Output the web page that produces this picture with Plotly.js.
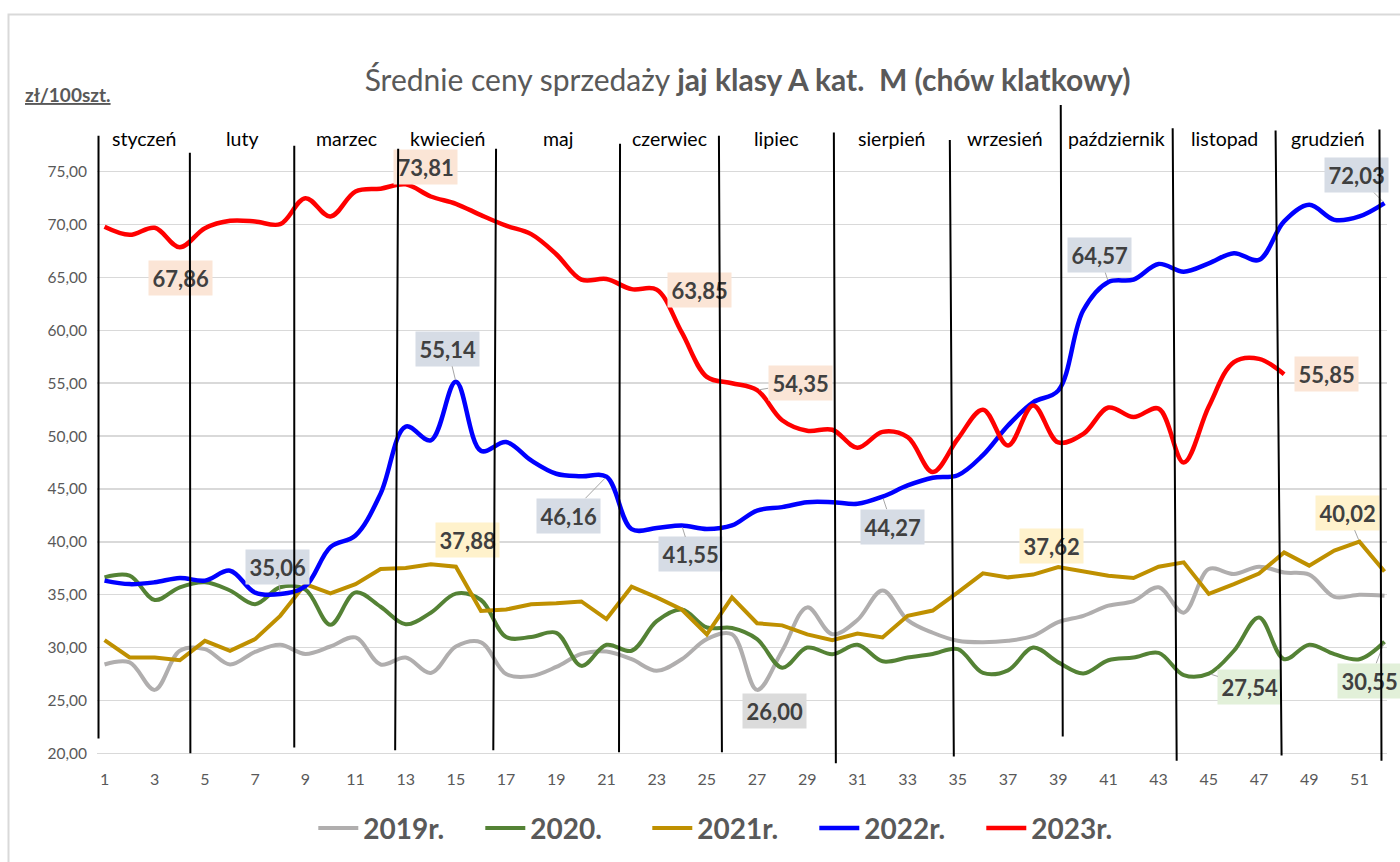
<!DOCTYPE html>
<html><head><meta charset="utf-8">
<script src="https://cdn.plot.ly/plotly-3.0.1.min.js"></script>
<style>html,body{margin:0;padding:0;background:#fff}</style>
</head><body><div id="chart" style="width:1400px;height:862px"></div>
<script>
// ---------- data ----------
const weeks = Array.from({length: 52}, (_, i) => i + 1);
const seriesNames = ['2019r.', '2020.', '2021r.', '2022r.', '2023r.'];
const y2019 = [28.4, 28.6, 26.0, 29.7, 29.85, 28.4, 29.6, 30.26, 29.4, 30.1, 30.96, 28.4, 29.06, 27.6, 30.1, 30.5, 27.5, 27.3, 28.17, 29.4, 29.63, 28.9, 27.8, 28.9, 30.8, 31.26, 26.0, 29.7, 33.8, 31.26, 32.6, 35.4, 32.6, 31.4, 30.64, 30.5, 30.64, 31.1, 32.4, 33.0, 33.96, 34.4, 35.7, 33.3, 37.43, 36.96, 37.65, 37.1, 36.9, 34.8, 35.0, 34.9];
const y2020 = [36.64, 36.8, 34.5, 35.7, 36.17, 35.4, 34.1, 35.7, 35.5, 32.16, 35.22, 33.86, 32.2, 33.3, 35.1, 34.5, 31.0, 31.0, 31.4, 28.27, 30.26, 29.7, 32.5, 33.6, 31.9, 31.85, 30.8, 28.1, 30.0, 29.38, 30.26, 28.7, 29.06, 29.4, 29.85, 27.6, 27.85, 30.0, 28.6, 27.55, 28.8, 29.06, 29.5, 27.4, 27.54, 29.7, 32.85, 28.9, 30.26, 29.38, 28.9, 30.55];
const y2021 = [30.7, 29.06, 29.06, 28.8, 30.64, 29.7, 30.8, 33.0, 36.0, 35.12, 36.0, 37.43, 37.53, 37.88, 37.65, 33.46, 33.6, 34.1, 34.2, 34.36, 32.7, 35.76, 34.75, 33.6, 31.25, 34.75, 32.3, 32.1, 31.25, 30.7, 31.33, 30.96, 33.0, 33.5, 35.22, 37.02, 36.64, 36.9, 37.62, 37.2, 36.8, 36.58, 37.65, 38.06, 35.07, 36.0, 37.0, 39.0, 37.75, 39.17, 40.02, 37.2];
const y2022 = [36.33, 36.0, 36.17, 36.58, 36.33, 37.27, 35.2, 35.06, 35.8, 39.5, 40.6, 44.56, 50.9, 49.6, 55.14, 48.6, 49.44, 47.7, 46.44, 46.2, 46.16, 41.2, 41.3, 41.55, 41.22, 41.55, 42.96, 43.28, 43.75, 43.75, 43.6, 44.27, 45.33, 46.06, 46.3, 48.2, 51.0, 53.2, 54.3, 61.9, 64.57, 64.8, 66.28, 65.55, 66.34, 67.3, 66.66, 70.3, 71.87, 70.45, 70.77, 72.03];
const y2023 = [69.8, 69.03, 69.7, 67.86, 69.66, 70.36, 70.3, 70.04, 72.5, 70.76, 73.13, 73.4, 73.81, 72.66, 71.97, 70.9, 69.9, 69.1, 67.2, 64.8, 64.85, 63.9, 63.85, 59.8, 55.6, 55.0, 54.35, 51.5, 50.5, 50.6, 48.9, 50.4, 49.9, 46.6, 49.75, 52.5, 49.1, 52.9, 49.4, 50.2, 52.7, 51.8, 52.6, 47.5, 52.8, 57.0, 57.3, 55.85];
const months = ['styczeń', 'luty', 'marzec', 'kwiecień', 'maj', 'czerwiec', 'lipiec', 'sierpień', 'wrzesień', 'październik', 'listopad', 'grudzień'];
const yTicks = [20, 25, 30, 35, 40, 45, 50, 55, 60, 65, 70, 75];

// ---------- styling / layout config ----------
const seriesData = [y2019, y2020, y2021, y2022, y2023];
const colors = ['#b0aeae', '#548235', '#bf9000', '#0000ff', '#ff0000'];
const labelBg = ['#dbdbdb', '#e2f0d9', '#fff2cc', '#d6dce5', '#fbe5d6'];
const widths = [4, 4, 4, 4.5, 4.5];
const shapes = ['spline', 'spline', 'linear', 'spline', 'spline'];

// separator lines: [xTop, xBottom, yTop, yBottom]
const sepLines = [
  [0.76, 0.76, 78.5, 21.4], [4.40, 4.42, 76.9, 20.0], [8.56, 8.56, 77.56, 20.55],
  [12.70, 12.58, 77.27, 20.3], [16.6, 16.49, 77.27, 20.3], [21.54, 21.5, 77.75, 20.1],
  [25.48, 25.6, 78.5, 20.1], [30.06, 30.14, 78.8, 19.05], [34.68, 34.84, 78.1, 19.7],
  [39.1, 39.18, 81.4, 21.6], [43.56, 43.72, 79.2, 19.3], [47.66, 47.9, 79.0, 19.8],
  [51.8, 51.88, 79.1, 19.3]
];

// data labels: series index, week, offset of box centre (px), leader line
const labelSpecs = [
  [4, 4, 1, 31, false], [4, 13, 20, -17, false], [4, 23, 43, 0, false], [4, 27, 43, -7, true], [4, 48, 42, 0, false],
  [3, 8, -3, -27, true], [3, 15, -8, -33, true], [3, 21, -38, 39, true], [3, 24, 9, 29, true],
  [3, 32, 10, 30, true], [3, 41, -9, -27, true], [3, 52, -28, -28, true],
  [2, 14, 37, -24, false], [2, 39, -7, -21, false], [2, 51, -12, -29, true],
  [1, 45, 41, 13, true], [1, 52, -15, 39, true],
  [0, 27, 17, 21, false]
];

const FONT = 'Lato, "Open Sans", sans-serif';
const GREY = '#595959';

const traces = seriesData.map((ys, i) => ({
  type: 'scatter', mode: 'lines', name: seriesNames[i],
  x: weeks.slice(0, ys.length), y: ys,
  line: {color: colors[i], width: widths[i], shape: shapes[i], smoothing: 1},
  hoverinfo: 'x+y'
}));

const fmt = v => v.toFixed(2).replace('.', ',');

const annotations = [];
labelSpecs.forEach(([si, w, ax, ay, leader]) => {
  const v = seriesData[si][w - 1];
  annotations.push({
    x: w, y: v, xref: 'x', yref: 'y',
    text: '<b>' + fmt(v) + '</b>',
    font: {family: FONT, size: 22, color: '#404040'},
    bgcolor: labelBg[si], borderpad: 3.5,
    showarrow: true, ax: ax, ay: ay, arrowhead: 0, arrowwidth: 1,
    arrowcolor: leader ? '#a6a6a6' : 'rgba(0,0,0,0)', standoff: 2
  });
});

// separator lines drawn as annotation arrows so they lie over the labels
sepLines.forEach(([xt, xb, yt, yb]) => {
  annotations.push({
    x: xb, y: yb, xref: 'x', yref: 'y', axref: 'x', ayref: 'y', ax: xt, ay: yt,
    xanchor: 'center', yanchor: 'middle',
    text: ' ', font: {size: 1}, borderpad: 0,
    showarrow: true, arrowhead: 0, arrowwidth: 2, arrowcolor: '#000', standoff: 0, startstandoff: 0
  });
});

// month names centred between separators
months.forEach((m, i) => {
  annotations.push({
    x: (sepLines[i][0] + sepLines[i + 1][0]) / 2, y: 78.1, xref: 'x', yref: 'y',
    text: m, showarrow: false, font: {family: FONT, size: 19.5, color: '#000'}
  });
});

annotations.push({
  x: -0.0577, y: 1.0127, xref: 'paper', yref: 'paper', xanchor: 'left', yanchor: 'middle',
  text: '<b><span style="text-decoration:underline">zł/100szt.</span></b>', showarrow: false,
  font: {family: FONT, size: 19, color: GREY}
});

const layout = {
  width: 1400, height: 862,
  margin: {l: 96.5, r: 12.5, t: 103.4, b: 96.3},
  paper_bgcolor: '#fff', plot_bgcolor: '#fff',
  separators: ', ',
  title: {
    text: 'Średnie ceny sprzedaży <b>jaj klasy A kat.  M (chów klatkowy)</b>',
    x: 0.534, xanchor: 'center', y: 0.907, yanchor: 'middle',
    font: {family: FONT, size: 30, color: GREY}
  },
  xaxis: {
    range: [0.7, 52.1], tickmode: 'array', tickvals: weeks.filter(w => w % 2 === 1),
    showgrid: false, zeroline: false, showline: false, ticks: '',
    tickfont: {family: FONT, size: 16, color: GREY}, ticklabelstandoff: 2
  },
  yaxis: {
    range: [18.8, 81.5], tickmode: 'array', tickvals: yTicks, tickformat: '.2f',
    showgrid: true, gridcolor: '#d9d9d9', gridwidth: 1.5, zeroline: false, showline: false, ticks: '',
    tickfont: {family: FONT, size: 15.5, color: GREY}, ticklabelstandoff: 9
  },
  legend: {
    orientation: 'h', xref: 'container', yref: 'container',
    x: 0.522, xanchor: 'center', y: 0.039, yanchor: 'middle',
    font: {family: FONT, size: 28, color: GREY, weight: 'bold'}, itemwidth: 40,
    entrywidth: 112, entrywidthmode: 'pixels'
  },
  shapes: [{
    type: 'rect', xref: 'paper', yref: 'paper', x0: -0.0686, x1: 1.2, y0: -0.3, y1: 1.1335,
    line: {color: '#d9d9d9', width: 2}, fillcolor: 'rgba(0,0,0,0)', layer: 'below'
  }],
  annotations: annotations,
  showlegend: true
};

Plotly.newPlot('chart', traces, layout, {displayModeBar: false, staticPlot: true});
</script>
</body></html>
